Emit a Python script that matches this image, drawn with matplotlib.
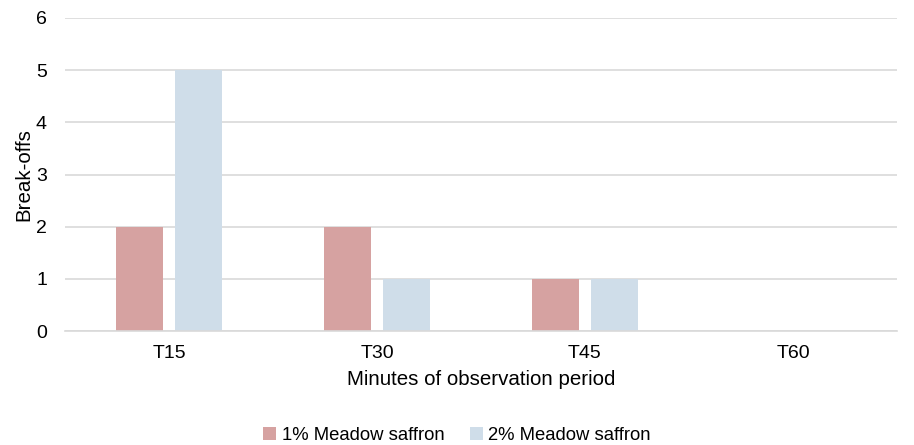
import numpy as np
import matplotlib
matplotlib.use("Agg")
import matplotlib.pyplot as plt

plt.rcParams['font.family'] = ['Liberation Sans', 'DejaVu Sans']

categories = ["T15", "T30", "T45", "T60"]
series_names = ["1% Meadow saffron", "2% Meadow saffron"]
saffron_1 = [2, 2, 1, 0]
saffron_2 = [5, 1, 1, 0]
colors = ["#D6A2A1", "#CFDDE9"]

fig = plt.figure(figsize=(9.14, 4.45), dpi=100)
ax = fig.add_axes([65 / 914, 1 - 331 / 445, 832 / 914, 313 / 445])

x = np.arange(len(categories))
w = 0.222
ax.bar(x - 0.142, saffron_1, width=w, color=colors[0], label=series_names[0], zorder=2)
ax.bar(x + 0.142, saffron_2, width=w, color=colors[1], label=series_names[1], zorder=2)

ax.set_xlim(-0.5, 3.5)
ax.set_ylim(0, 6)
ax.set_yticks(range(0, 7))
ax.set_xticks(x)
ax.set_xticklabels(categories)
ax.grid(axis='y', color='#D9D9D9', linewidth=1.2, zorder=0)
for s in ['top', 'right', 'left']:
    ax.spines[s].set_visible(False)
ax.spines['bottom'].set_color('#D9D9D9')
ax.spines['bottom'].set_linewidth(1.2)
ax.tick_params(length=0, labelsize=14)
ax.tick_params(axis='x', pad=10)
ax.tick_params(axis='y', pad=13)

ax.set_xlabel("Minutes of observation period", fontsize=14.8, labelpad=6)
ax.set_ylabel("Break-offs", fontsize=14.8, labelpad=2)

fig.legend(loc='lower center', bbox_to_anchor=(0.5, -0.035), ncol=2, frameon=False,
           fontsize=13.3, handlelength=0.7, handleheight=0.7, handletextpad=0.3,
           columnspacing=1.4)

fig.savefig("out.png", dpi=100)
